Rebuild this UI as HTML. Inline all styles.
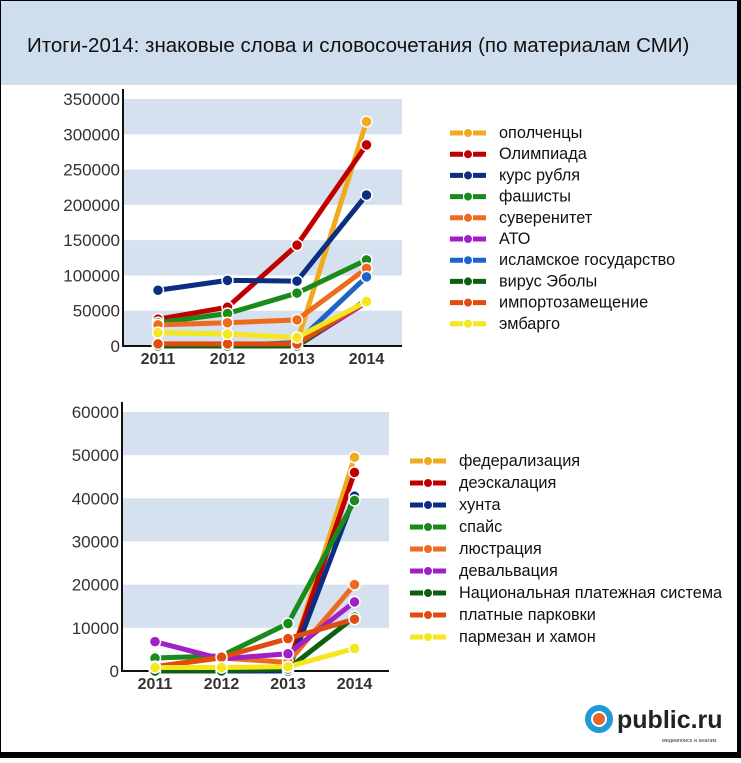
<!DOCTYPE html>
<html><head><meta charset="utf-8"><style>
body{margin:0;width:741px;height:758px;overflow:hidden;background:#fff;font-family:"Liberation Sans",sans-serif}
svg text{font-family:"Liberation Sans",sans-serif}
</style></head><body>
<svg id="s" width="741" height="758" xmlns="http://www.w3.org/2000/svg">
<rect x="0" y="0" width="741" height="758" fill="#fff"/>
<rect x="1" y="1" width="736" height="84" fill="#cfdeec"/>
<text x="27" y="52" font-size="20.5" fill="#111">Итоги-2014: знаковые слова и словосочетания (по материалам СМИ)</text>
<g id="c1"></g><g id="c2"></g>
<g>
<circle cx="599" cy="719" r="11" fill="none" stroke="#1e9ad6" stroke-width="6"/>
<circle cx="599" cy="719" r="6" fill="#e8662a"/>
<text x="617" y="728" font-size="25" font-weight="bold" fill="#222">public.ru</text>
<text x="662" y="742" font-size="5.5" fill="#333">медиапоиск и анализ</text>
</g>
<rect x="0" y="0" width="741" height="758" fill="none" stroke="#000" stroke-width="2"/>
<rect x="737" y="0" width="4" height="758" fill="#000"/>
<rect x="0" y="752" width="741" height="6" fill="#000"/>
</svg>
<script>
const years=["2011","2012","2013","2014"];
const names1=["ополченцы","Олимпиада","курс рубля","фашисты","суверенитет","АТО","исламское государство","вирус Эболы","импортозамещение","эмбарго"];
const colors1=["#f0aa1e","#c00000","#0c2e80","#1a8a1a","#ee6a1e","#a020c8","#1e64c8","#0c6010","#e04c10","#f5e61e"];
const vals1=[[0,0,5000,318000],[38000,55000,143000,285000],[79000,93000,92000,214000],[33000,46000,75000,122000],[30000,33000,37000,110000],[0,0,0,62000],[0,0,5000,98000],[0,0,0,65000],[3000,3000,3000,63000],[19000,17000,12000,63000]];
const ticks1=[0,50000,100000,150000,200000,250000,300000,350000];
const names2=["федерализация","деэскалация","хунта","спайс","люстрация","девальвация","Национальная платежная система","платные парковки","пармезан и хамон"];
const colors2=["#f0aa1e","#c00000","#0c2e80","#1a8a1a","#ee6a1e","#a020c8","#0c6010","#e04c10","#f5e61e"];
const vals2=[[500,500,1000,49500],[0,0,1000,46000],[0,0,0,40500],[3000,3500,11000,39500],[1000,3000,2000,20000],[6800,2800,4000,16000],[0,0,500,12500],[1000,3200,7500,12000],[800,800,1000,5200]];
const ticks2=[0,10000,20000,30000,40000,50000,60000];
const NS="http://www.w3.org/2000/svg";
function mk(p,t,a){const e=document.createElementNS(NS,t);for(const k in a)e.setAttribute(k,a[k]);p.appendChild(e);return e;}
function draw(g,cfg,names,colors,vals,ticks){
 const {x0,x1,y0,y1,max,xs,lx,ly,ldy}=cfg;
 const Y=v=>y0-(v/max)*(y0-y1);
 const X=i=>xs[0]+i*(xs[1]-xs[0]);
 for(let i=0;i<ticks.length-1;i++){
  if((ticks.length-1-i)%2===1){const b=mk(g,'rect',{x:x0,y:Y(ticks[i+1]),width:x1-x0,height:Y(ticks[i])-Y(ticks[i+1]),fill:'#d5e1ee'});
  
  }
 }
 ticks.forEach(t=>{const e=mk(g,'text',{x:x0-3,y:Y(t)+6,'text-anchor':'end','font-size':17,fill:'#333'});e.textContent=t;
  
  });
 years.forEach((yr,i)=>{const e=mk(g,'text',{x:X(i),y:y0+18,'text-anchor':'middle','font-size':16,'font-weight':'bold',fill:'#333'});e.textContent=yr;
  
  });
 mk(g,'path',{d:`M${x0} ${y1-10}V${y0}H${x1}`,stroke:'#111','stroke-width':2,fill:'none'});
 for(let s=0;s<vals.length;s++){
  const pts=vals[s].map((v,i)=>X(i)+','+Y(v)).join(' ');
  const l=mk(g,'polyline',{points:pts,fill:'none',stroke:colors[s],'stroke-width':5,'stroke-linejoin':'round'});
  
  
  vals[s].forEach((v,i)=>{const c=mk(g,'circle',{cx:X(i),cy:Y(v),r:5.5,fill:colors[s],stroke:'#fff','stroke-width':1.5});
   
   });
 }
 names.forEach((n,i)=>{const y=ly+i*ldy;
  const lg=mk(g,'g',{});
  
  
  mk(lg,'line',{x1:lx,y1:y,x2:lx+36,y2:y,stroke:colors[i],'stroke-width':5,'stroke-dasharray':'13 10'});
  mk(lg,'circle',{cx:lx+18,cy:y,r:4.5,fill:colors[i],stroke:'#fff','stroke-width':1});
  const t=mk(lg,'text',{x:lx+49,y:y+5,'font-size':16.3,fill:'#111'});t.textContent=n;});
}
draw(document.getElementById('c1'),{x0:123,x1:402,y0:346,y1:99,max:350000,xs:[158,227.5],lx:450,ly:133,ldy:21.2},names1,colors1,vals1,ticks1);
draw(document.getElementById('c2'),{x0:122,x1:389,y0:671,y1:412,max:60000,xs:[155,221.5],lx:410,ly:461,ldy:22},names2,colors2,vals2,ticks2);
</script>
</body></html>
